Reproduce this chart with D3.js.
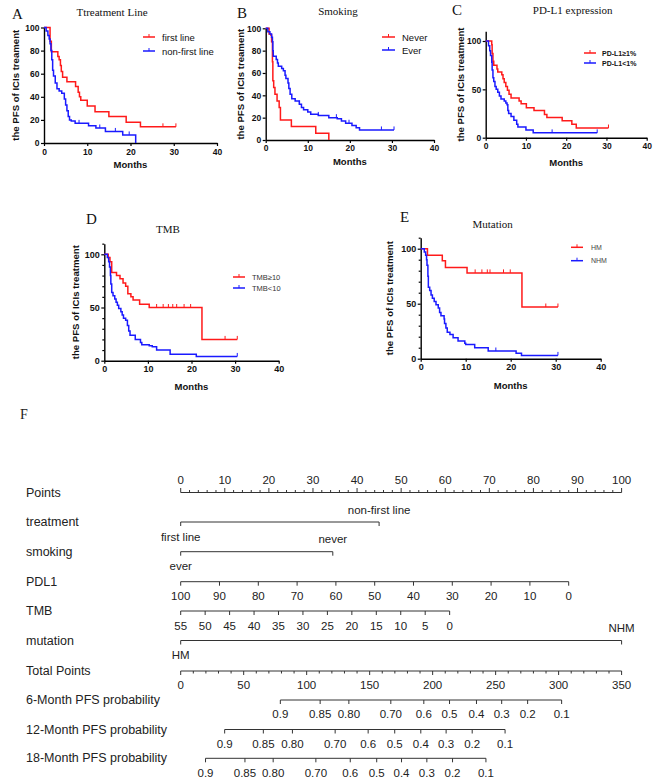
<!DOCTYPE html>
<html><head><meta charset="utf-8">
<script src="https://cdn.jsdelivr.net/npm/d3@7"></script>
<style>body{margin:0;background:#fff}</style>
</head><body><svg id="c" width="669" height="781" xmlns="http://www.w3.org/2000/svg"></svg>
<script>
// ---------------- DATA ----------------
const monthTicks = [0, 10, 20, 30, 40];
const yTicks20 = [0, 20, 40, 60, 80, 100];
const yTicks50 = [0, 50, 100];
const yMinor10 = [10, 20, 30, 40, 60, 70, 80, 90, 110];

// Panel A: Treatment line  [month, survival %]
const A_firstLine = [[0,100],[1.4,88],[1.7,79],[3.2,75],[3.5,72],[3.8,67],[4.0,62],[4.3,57],[5.3,53],[7.3,49],[7.9,44],[8.2,40],[8.5,37],[10.0,32],[11.8,27],[15.0,23],[19.0,18],[22.3,14]];
const A_firstLineEnd = 30.5, A_firstLineCens = [27.5, 30.5];
const A_nonFirst = [[0,100],[0.5,97],[0.9,93],[1.2,90],[1.4,86],[1.6,80],[1.8,72],[2.0,63],[2.2,58],[2.6,52],[3.0,47],[3.5,45],[4.1,43],[4.7,38],[5.0,33],[5.3,28],[5.6,23],[5.9,20],[6.3,19],[7.2,17],[10.3,15],[12.0,13],[14.2,10],[18.2,7],[21.2,0]];
const A_nonFirstEnd = 21.2, A_nonFirstCens = [8.1, 12.9, 16.5, 19.7];

// Panel B: Smoking
const B_never = [[0,100],[0.8,95],[1.2,94],[1.4,88],[1.6,70],[1.7,53],[1.9,47],[2.2,41],[2.7,35],[3.2,29],[3.5,18],[6.1,12],[11.9,6],[15.0,0]];
const B_neverEnd = 15.0, B_neverCens = [];
const B_ever = [[0,100],[0.5,97],[1.0,95],[1.4,92],[1.6,88],[1.7,80],[1.8,75],[2.5,72],[2.8,69],[3.0,66],[3.8,64],[4.2,62],[4.6,58],[4.8,55],[5.3,51],[5.5,46],[5.8,41],[6.2,37],[7.0,35],[8.0,32],[8.5,29],[9.0,27],[10.0,25],[10.7,23],[12.5,22],[15.0,20],[17.0,19],[18.0,17],[19.0,15],[20.5,13],[21.5,11],[22.3,9]];
const B_everEnd = 30.5, B_everCens = [8.0, 12.5, 16.8, 19.8, 27.5, 30.5];

// Panel C: PD-L1 expression
const C_pos = [[0,100],[1.5,96],[1.6,87],[1.8,79],[2.0,75],[2.8,71],[3.0,68],[4.0,65],[4.3,61],[4.6,57],[5.0,53],[5.4,49],[5.8,45],[6.3,41],[8.3,38],[8.8,35],[10.1,31],[12.0,28],[14.6,24],[15.2,21],[19.0,17.5],[21.4,14],[22.5,10]];
const C_posEnd = 30.5, C_posCens = [30.5];
const C_neg = [[0,100],[0.7,95],[1.0,90],[1.2,85],[1.5,78],[1.6,70],[1.8,62],[2.0,58],[2.3,53],[2.6,50],[3.0,47],[3.4,43],[3.8,40],[4.6,38],[5.0,36],[5.3,34],[5.5,28],[5.7,25],[6.3,22],[7.0,18],[7.7,14],[8.0,11],[10.0,8],[11.8,5]];
const C_negEnd = 27.7, C_negCens = [16.5, 27.7];

// Panel D: TMB
const D_high = [[0,100],[0.9,97],[1.3,93],[1.7,83],[2.8,80],[3.6,77],[4.3,73],[4.9,70],[5.4,63],[6.1,60],[6.6,57],[8.1,53],[10.3,50],[22.4,20]];
const D_highEnd = 30.5, D_highCens = [12.0,13.5,14.7,15.7,16.6,18.3,19.8,27.7,30.5];
const D_low = [[0,100],[0.7,97],[1.0,93],[1.2,88],[1.4,80],[1.5,72],[1.7,64],[2.0,61],[2.4,58],[2.7,55],[3.0,52],[3.3,49],[3.8,46],[4.1,43],[4.4,40],[4.9,38],[5.3,33],[5.6,28],[5.9,24],[7.1,20],[8.3,17],[8.6,15],[10.3,14],[11.0,13],[12.0,10],[15.1,6],[21.1,4]];
const D_lowEnd = 30.5, D_lowCens = [30.5];

// Panel E: Mutation
const E_hm = [[0,100],[1.5,94],[4.8,89],[5.5,83],[10.3,78],[22.5,47]];
const E_hmEnd = 30.5, E_hmCens = [12.1,13.6,14.8,15.4,18.4,19.9,27.8,30.5];
const E_nhm = [[0,100],[0.8,97],[1.1,94],[1.3,90],[1.4,85],[1.6,75],[1.7,65],[2.0,62],[2.3,58],[2.6,55],[3.0,52],[3.4,49],[3.9,46],[4.2,42],[4.5,39],[5.2,36],[5.3,32],[5.6,28],[5.9,24],[6.5,22],[7.2,19],[8.3,16],[9.8,14],[10.0,13],[12.0,10],[15.0,7],[21.2,5],[22.4,3]];
const E_nhmEnd = 30.5, E_nhmCens = [16.7, 30.5];

// Nomogram (F)
const pointsTicks = d3.range(0, 101, 10);
const pointsMinor = d3.range(0, 101, 2);
const treatmentLevels = ["first line", "non-first line"], treatmentPts = [0, 45];
const smokingLevels = ["ever", "never"], smokingPts = [0, 34.5];
const pdl1Values = [100, 90, 80, 70, 60, 50, 40, 30, 20, 10, 0], pdl1MaxPts = 88;
const tmbValues = [55, 50, 45, 40, 35, 30, 25, 20, 15, 10, 5, 0], tmbMaxPts = 61;
const mutationLevels = ["HM", "NHM"], mutationPts = [0, 100];
const totalTicks = [0, 50, 100, 150, 200, 250, 300, 350];
const totalMinor = d3.range(0, 351, 10);
const probLabels = ["0.9", "0.85", "0.80", "0.70", "0.6", "0.5", "0.4", "0.3", "0.2", "0.1"];
const pfs6Total = [79.1, 110.7, 133.5, 166.8, 193.0, 213.4, 234.8, 254.8, 275.4, 302.4];
const pfs12Total = [34.9, 65.6, 88.7, 122.6, 148.8, 169.9, 190.6, 210.7, 231.4, 257.5];
const pfs18Total = [19.7, 51.0, 73.4, 107.3, 134.6, 155.6, 175.3, 195.4, 215.8, 242.3];

// ---------------- DRAW ----------------
const SANS = "'Liberation Sans', Arial, sans-serif";
const SERIF = "'Liberation Serif', 'Times New Roman', serif";
const RED = "#ff1a1a", BLUE = "#1a1aff";
const svg = d3.select("#c");

function valAt(data, t) {
  let v = data[0][1];
  for (const d of data) { if (d[0] <= t) v = d[1]; }
  return v;
}

function kmPanel(p) {
  const g = svg.append("g");
  const yTopPx = p.y0 - (p.y0 - p.y100) * p.yMax / 100;
  const x = d3.scaleLinear([0, 40], [p.x0, p.x1]);
  const y = d3.scaleLinear([0, p.yMax], [p.y0, yTopPx]);

  // axes
  const xa = g.append("g").attr("transform", `translate(0,${p.y0})`)
    .call(d3.axisBottom(x).tickValues(monthTicks).tickSize(3).tickSizeOuter(0).tickPadding(p.xPad));
  const ya = g.append("g").attr("transform", `translate(${p.x0},0)`)
    .call(d3.axisLeft(y).tickValues(p.yTicks).tickSize(3).tickSizeOuter(0).tickPadding(1.5));
  if (p.minor) {
    g.append("g").attr("transform", `translate(${p.x0},0)`)
      .call(d3.axisLeft(y).tickValues(p.minor.filter(v => v <= p.yMax)).tickSize(2).tickSizeOuter(0).tickFormat(""))
      .call(a => a.select(".domain").remove());
  }
  g.selectAll(".domain").attr("stroke", "#000").attr("stroke-width", 1.4);
  g.selectAll(".tick line").attr("stroke", "#000").attr("stroke-width", 1.2);
  g.selectAll(".tick text").attr("font-family", SANS).attr("font-weight", "bold")
    .attr("font-size", p.tickFs).attr("fill", "#111");

  // curves
  const line = d3.line().x(d => x(d[0])).y(d => y(d[1])).curve(d3.curveStepAfter);
  p.series.forEach(s => {
    const pts = s.data.slice();
    const last = pts[pts.length - 1];
    if (s.end > last[0]) pts.push([s.end, last[1]]);
    g.append("path").attr("d", line(pts)).attr("fill", "none")
      .attr("stroke", s.color).attr("stroke-width", 1.5);
    s.cens.forEach(c => {
      const v = valAt(s.data, c);
      g.append("line").attr("x1", x(c)).attr("x2", x(c)).attr("y1", y(v)).attr("y2", y(v) - 3.5)
        .attr("stroke", s.color).attr("stroke-width", 1);
    });
  });

  // labels
  g.append("text").attr("x", (p.x0 + p.x1) / 2).attr("y", p.monthsY).attr("text-anchor", "middle")
    .attr("dominant-baseline", "central").attr("font-family", SANS).attr("font-weight", "bold")
    .attr("font-size", 9.5).attr("fill", "#111").text("Months");
  g.append("text").attr("transform", `translate(${p.ylabX},${(p.y0 + yTopPx) / 2}) rotate(-90)`)
    .attr("text-anchor", "middle").attr("dominant-baseline", "central").attr("font-family", SANS)
    .attr("font-weight", "bold").attr("font-size", 9.6).attr("fill", "#111").text(p.ylab);
  g.append("text").attr("x", p.titleX).attr("y", p.titleY).attr("text-anchor", "middle")
    .attr("font-family", SERIF).attr("font-size", 11).attr("fill", "#111").text(p.title);
  g.append("text").attr("x", p.letterX).attr("y", p.letterY)
    .attr("font-family", SERIF).attr("font-size", 15).attr("fill", "#111").text(p.letter);

  // legend
  p.series.forEach((s, i) => {
    const ly = p.legY[i];
    g.append("line").attr("x1", p.legX[0]).attr("x2", p.legX[1]).attr("y1", ly).attr("y2", ly)
      .attr("stroke", s.color).attr("stroke-width", 1.5);
    const mx = (p.legX[0] + p.legX[1]) / 2;
    g.append("line").attr("x1", mx).attr("x2", mx).attr("y1", ly).attr("y2", ly - 3)
      .attr("stroke", s.color).attr("stroke-width", 1);
    g.append("text").attr("x", p.legTextX).attr("y", ly).attr("dominant-baseline", "central")
      .attr("font-family", SANS).attr("font-size", p.legFs).attr("font-weight", p.legBold ? "bold" : "normal")
      .attr("fill", p.legColor || "#111").text(s.name);
  });
}

kmPanel({ x0: 44, x1: 217, y0: 143, y100: 27.5, yMax: 100, yTicks: yTicks20, xPad: 3, tickFs: 8.5,
  monthsY: 164, ylabX: 15, ylab: "the PFS of ICIs treament", title: "Ttreatment Line", titleX: 112, titleY: 16,
  letter: "A", letterX: 12, letterY: 18.5, legX: [143, 155], legY: [37, 51], legTextX: 162, legFs: 9.5,
  series: [
    { name: "first line", color: RED, data: A_firstLine, end: A_firstLineEnd, cens: A_firstLineCens },
    { name: "non-first line", color: BLUE, data: A_nonFirst, end: A_nonFirstEnd, cens: A_nonFirstCens }] });

kmPanel({ x0: 265.7, x1: 434, y0: 140, y100: 28.3, yMax: 100, yTicks: yTicks20, xPad: 2, tickFs: 8.5,
  monthsY: 161, ylabX: 240, ylab: "the PFS of ICIs treament", title: "Smoking", titleX: 338, titleY: 15,
  letter: "B", letterX: 237, letterY: 17.5, legX: [382, 395], legY: [37, 50], legTextX: 402, legFs: 9.5,
  series: [
    { name: "Never", color: RED, data: B_never, end: B_neverEnd, cens: B_neverCens },
    { name: "Ever", color: BLUE, data: B_ever, end: B_everEnd, cens: B_everCens }] });

kmPanel({ x0: 485.7, x1: 646.7, y0: 137.7, y100: 41, yMax: 110, yTicks: yTicks50, xPad: 2, tickFs: 8.5,
  monthsY: 162, ylabX: 460, ylab: "the PFS of ICIs treatment", title: "PD-L1 expression", titleX: 572.7, titleY: 13.5,
  letter: "C", letterX: 452, letterY: 14.5, legX: [584, 596], legY: [53, 63], legTextX: 602, legFs: 7, legBold: true,
  series: [
    { name: "PD-L1≥1%", color: RED, data: C_pos, end: C_posEnd, cens: C_posCens },
    { name: "PD-L1<1%", color: BLUE, data: C_neg, end: C_negEnd, cens: C_negCens }] });

kmPanel({ x0: 104.3, x1: 278.7, y0: 360.7, y100: 254.3, yMax: 110, yTicks: yTicks50, minor: yMinor10, xPad: 2, tickFs: 9,
  monthsY: 386, ylabX: 75, ylab: "the PFS of ICIs treatment", title: "TMB", titleX: 168, titleY: 233,
  letter: "D", letterX: 86, letterY: 223.5, legX: [233, 245], legY: [277, 288], legTextX: 252, legFs: 7.5, legColor: "#333",
  series: [
    { name: "TMB≥10", color: RED, data: D_high, end: D_highEnd, cens: D_highCens },
    { name: "TMB<10", color: BLUE, data: D_low, end: D_lowEnd, cens: D_lowCens }] });

kmPanel({ x0: 420.7, x1: 600.7, y0: 358.7, y100: 248.7, yMax: 110, yTicks: yTicks50, minor: yMinor10, xPad: 2, tickFs: 9,
  monthsY: 385, ylabX: 389, ylab: "the PFS of ICIs treatment", title: "Mutation", titleX: 492.7, titleY: 228,
  letter: "E", letterX: 400, letterY: 221.5, legX: [571, 583], legY: [247.3, 260.7], legTextX: 591, legFs: 7, legColor: "#444",
  series: [
    { name: "HM", color: RED, data: E_hm, end: E_hmEnd, cens: E_hmCens },
    { name: "NHM", color: BLUE, data: E_nhm, end: E_nhmEnd, cens: E_nhmCens }] });

// ---------------- NOMOGRAM ----------------
const ng = svg.append("g");
const INK = "#222", LN = "#333";
const ptsX = d3.scaleLinear([0, 100], [180.7, 621.6]);
const totX = d3.scaleLinear([0, 350], [180.7, 621.6]);
const LBLX = 26, ROWFS = 12.5, TFS = 11.5;

ng.append("text").attr("x", 20).attr("y", 419).attr("font-family", SERIF).attr("font-size", 14).attr("fill", INK).text("F");

function rowLabel(txt, y) {
  ng.append("text").attr("x", LBLX).attr("y", y).attr("dominant-baseline", "central")
    .attr("font-family", SANS).attr("font-size", ROWFS).attr("fill", INK).text(txt);
}
function hline(x1, x2, y) {
  ng.append("line").attr("x1", x1).attr("x2", x2).attr("y1", y).attr("y2", y).attr("stroke", LN).attr("stroke-width", 1);
}
function tick(x, y, len) {
  ng.append("line").attr("x1", x).attr("x2", x).attr("y1", y).attr("y2", y + len).attr("stroke", LN).attr("stroke-width", 1);
}
function lbl(txt, x, y) {
  ng.append("text").attr("x", x).attr("y", y).attr("text-anchor", "middle").attr("dominant-baseline", "central")
    .attr("font-family", SANS).attr("font-size", TFS).attr("fill", INK).text(txt);
}

// Points
const yPts = 492.5;
rowLabel("Points", yPts);
hline(ptsX(0), ptsX(100), yPts);
pointsMinor.forEach(v => tick(ptsX(v), yPts, v % 10 === 0 ? -4.5 : -2.5));
pointsTicks.forEach(v => lbl(String(v), ptsX(v), yPts - 12.5));

// categorical rows
function catRow(name, y, levels, pts) {
  rowLabel(name, y);
  hline(ptsX(pts[0]), ptsX(pts[1]), y);
  pts.forEach(p => tick(ptsX(p), y, 4));
  lbl(levels[0], ptsX(pts[0]), y + 14.5);
  lbl(levels[1], ptsX(pts[1]), y - 12.5);
}
catRow("treatment", 522, treatmentLevels, treatmentPts);
catRow("smoking", 551.7, smokingLevels, smokingPts);

// PDL1
const yPd = 581.7;
rowLabel("PDL1", yPd);
const pdX = v => ptsX(pdl1MaxPts * (100 - v) / 100);
hline(pdX(100), pdX(0), yPd);
pdl1Values.forEach(v => { tick(pdX(v), yPd, 4); lbl(String(v), pdX(v), yPd + 14); });

// TMB
const yTmb = 611;
rowLabel("TMB", yTmb);
const tmbX = v => ptsX(tmbMaxPts * (55 - v) / 55);
hline(tmbX(55), tmbX(0), yTmb);
tmbValues.forEach(v => { tick(tmbX(v), yTmb, 4); lbl(String(v), tmbX(v), yTmb + 14.5); });

catRow("mutation", 640.5, mutationLevels, mutationPts);

// Total points
const yTot = 671;
rowLabel("Total Points", yTot);
hline(totX(0), totX(350), yTot);
totalMinor.forEach(v => tick(totX(v), yTot, v % 50 === 0 ? 4 : 2.5));
totalTicks.forEach(v => lbl(String(v), totX(v), yTot + 14));

function probRow(name, y, totals) {
  rowLabel(name, y);
  hline(totX(totals[0]), totX(totals[totals.length - 1]), y);
  totals.forEach((t, i) => { tick(totX(t), y, 4); lbl(probLabels[i], totX(t), y + 14.3); });
}
probRow("6-Month PFS probability", 700, pfs6Total);
probRow("12-Month PFS probability", 729.5, pfs12Total);
probRow("18-Month PFS probability", 758.3, pfs18Total);
</script>
</body></html>
